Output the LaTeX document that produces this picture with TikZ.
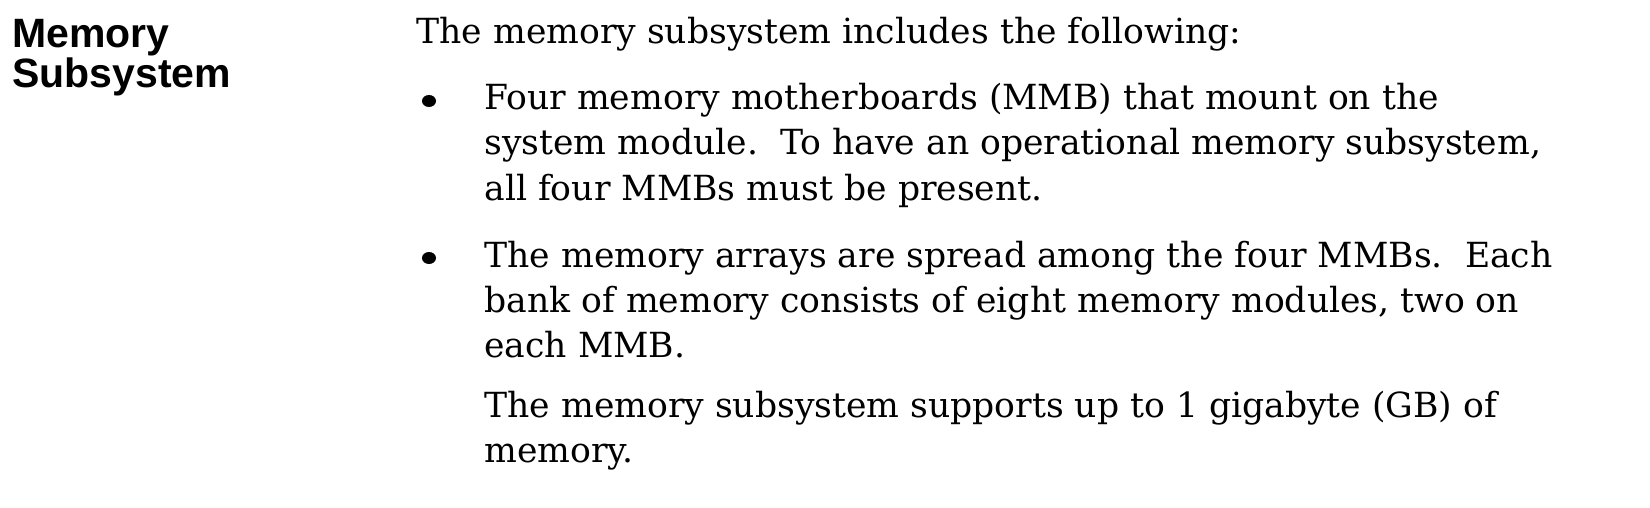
\documentclass[tikz,border=0pt]{standalone}
\usetikzlibrary{shapes.geometric}
\usepackage{fontspec}
\setmainfont{DejaVu Serif}
\newfontfamily\headfont{Liberation Sans}
\begin{document}
\begin{tikzpicture}[x=0.5pt,y=-0.5pt,
  txt/.style={anchor=base west,inner sep=0pt,font=\fontsize{17.3}{20}\selectfont},
  head/.style={anchor=base west,inner sep=0pt,font=\headfont\bfseries\fontsize{20.5}{22}\selectfont},
  bul/.style={ellipse,fill=black,inner sep=0pt,minimum width=7pt,minimum height=6pt}]
\useasboundingbox (0,0) rectangle (1650,508);
\node[head] (h1) at (12,48) {Memory};
\node[head] (h2) at (12,88) {Subsystem};
\node[txt] (l0) at (416,44) {The memory subsystem includes the following:};
\node[bul] (b1) at (429,101) {};
\node[txt] (l1) at (484,110) {Four memory motherboards (MMB) that mount on the};
\node[txt] (l2) at (484,155) {system module.\ \ To have an operational memory subsystem,};
\node[txt] (l3) at (484,200) {all four MMBs must be present.};
\node[bul] (b2) at (429,258) {};
\node[txt] (l4) at (484,267) {The memory arrays are spread among the four MMBs.\ \ Each};
\node[txt] (l5) at (484,312) {bank of memory consists of eight memory modules, two on};
\node[txt] (l6) at (484,357) {each MMB.};
\node[txt] (l7) at (484,417) {The memory subsystem supports up to 1 gigabyte (GB) of};
\node[txt] (l8) at (484,462) {memory.};
\end{tikzpicture}
\end{document}
